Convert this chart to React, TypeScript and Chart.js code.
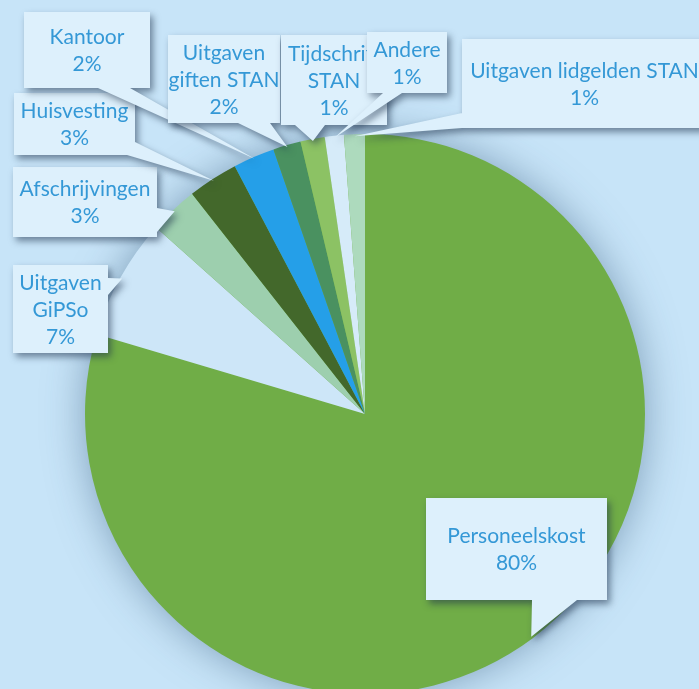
import React, { useEffect, useRef } from "react";
import { Chart, registerables } from "chart.js";

Chart.register(...registerables);

// ---- data ----
const categories = [
  "Personeelskost",
  "Uitgaven GiPSo",
  "Afschrijvingen",
  "Huisvesting",
  "Kantoor",
  "Uitgaven giften STAN",
  "Tijdschrift STAN",
  "Andere",
  "Uitgaven lidgelden STAN",
];
const shares = [79.6, 7.0, 2.8, 2.9, 2.4, 1.6, 1.4, 1.1, 1.2];

// ---- styles / layout ----
const sliceColors = [
  "#70AD47",
  "#CDE6F8",
  "#9DCFAE",
  "#43682B",
  "#259FE8",
  "#4A9160",
  "#8CC264",
  "#D6EBF9",
  "#ADDABD",
];
const pageBg = "#C7E4F8";
const boxFill = "#DDF0FC";
const textColor = "#3498D6";
const fontSpec = "21px Lato";
const lineHeight = 27;

// callout boxes [x, y, w, h] and pointer base points, same order as categories
const calloutBoxes = [
  [426, 498, 181, 102],
  [13, 265, 95, 88],
  [13, 167, 144, 70],
  [14, 93, 121, 62],
  [24, 12, 126, 76],
  [168, 35, 112, 88],
  [281, 35, 106, 90],
  [367, 32, 80, 61],
  [462, 39, 245, 89],
];
const calloutBases = [
  [[532, 600], [577, 600]],
  [[108, 278], [108, 295]],
  [[157, 208], [157, 232]],
  [[135, 142], [127, 155]],
  [[98, 88], [130, 88]],
  [[238, 123], [270, 123]],
  [[295, 125], [325, 125]],
  [[383, 93], [402, 93]],
  [[462, 113], [462, 128]],
];

function wrap(ctx: CanvasRenderingContext2D, text: string, maxW: number): string[] {
  const words = text.split(" ");
  const lines: string[] = [];
  let cur = "";
  for (const w of words) {
    const test = cur ? cur + " " + w : w;
    if (cur && ctx.measureText(test).width > maxW) {
      lines.push(cur);
      cur = w;
    } else {
      cur = test;
    }
  }
  if (cur) lines.push(cur);
  return lines;
}

const pieShadowPlugin = {
  id: "pieShadow",
  beforeDatasetsDraw(chart: any) {
    const arc = chart.getDatasetMeta(0).data[0];
    if (!arc) return;
    const { x, y, outerRadius } = arc.getProps(["x", "y", "outerRadius"], true);
    const ctx = chart.ctx;
    ctx.save();
    ctx.shadowColor = "rgba(50, 85, 120, 0.5)";
    ctx.shadowBlur = 40;
    ctx.shadowOffsetX = 0;
    ctx.shadowOffsetY = 0;
    ctx.beginPath();
    ctx.arc(x, y, outerRadius - 1, 0, Math.PI * 2);
    ctx.fillStyle = sliceColors[0];
    ctx.fill();
    ctx.restore();
  },
};

const calloutPlugin = {
  id: "callouts",
  afterDatasetsDraw(chart: any) {
    const ctx: CanvasRenderingContext2D = chart.ctx;
    const meta = chart.getDatasetMeta(0);
    const values: number[] = chart.data.datasets[0].data;
    const total = values.reduce((a, b) => a + b, 0);
    meta.data.forEach((arc: any, i: number) => {
      const p = arc.getProps(["x", "y", "startAngle", "endAngle", "outerRadius"], true);
      const mid = (p.startAngle + p.endAngle) / 2;
      const r = p.outerRadius - 2;
      const tx = p.x + Math.cos(mid) * r;
      const ty = p.y + Math.sin(mid) * r;
      const [bx, by, bw, bh] = calloutBoxes[i];
      const [b1, b2] = calloutBases[i];

      ctx.save();
      ctx.shadowColor = "rgba(30, 50, 75, 0.55)";
      ctx.shadowBlur = 7;
      ctx.shadowOffsetX = 3;
      ctx.shadowOffsetY = 4;
      ctx.fillStyle = boxFill;
      ctx.beginPath();
      ctx.rect(bx, by, bw, bh);
      ctx.moveTo(b1[0], b1[1]);
      ctx.lineTo(tx, ty);
      ctx.lineTo(b2[0], b2[1]);
      ctx.closePath();
      ctx.fill();
      ctx.restore();

      ctx.save();
      ctx.fillStyle = boxFill;
      ctx.beginPath();
      ctx.rect(bx, by, bw, bh);
      ctx.fill();
      ctx.font = fontSpec;
      ctx.fillStyle = textColor;
      ctx.textAlign = "center";
      ctx.textBaseline = "middle";
      const pct = Math.round((values[i] / total) * 100) + "%";
      const lines = [...wrap(ctx, chart.data.labels[i], bw + 10), pct];
      const cx = bx + bw / 2;
      const cy = by + bh / 2 + 1;
      const startY = cy - ((lines.length - 1) * lineHeight) / 2;
      lines.forEach((ln, k) => ctx.fillText(ln, cx, startY + k * lineHeight));
      ctx.restore();
    });
  },
};

export default function App() {
  const ref = useRef<HTMLCanvasElement | null>(null);
  useEffect(() => {
    document.body.style.margin = "0";
    const canvas = ref.current;
    if (!canvas) return;
    const chart = new Chart(canvas, {
      type: "pie",
      data: {
        labels: categories,
        datasets: [
          {
            data: shares,
            backgroundColor: sliceColors,
            borderWidth: 0,
            hoverOffset: 0,
          },
        ],
      },
      options: {
        responsive: false,
        animation: false,
        layout: { padding: { left: 85, right: 54, top: 134, bottom: 66 } },
        plugins: {
          legend: { display: false },
          tooltip: { enabled: false },
        },
        events: [],
      },
      plugins: [pieShadowPlugin, calloutPlugin],
    });
    return () => chart.destroy();
  }, []);
  return (
    <div
      style={{
        position: "fixed",
        left: 0,
        top: 0,
        width: 699,
        height: 689,
        overflow: "hidden",
        background: pageBg,
      }}
    >
      <canvas ref={ref} width={699} height={760} style={{ display: "block" }} />
    </div>
  );
}
